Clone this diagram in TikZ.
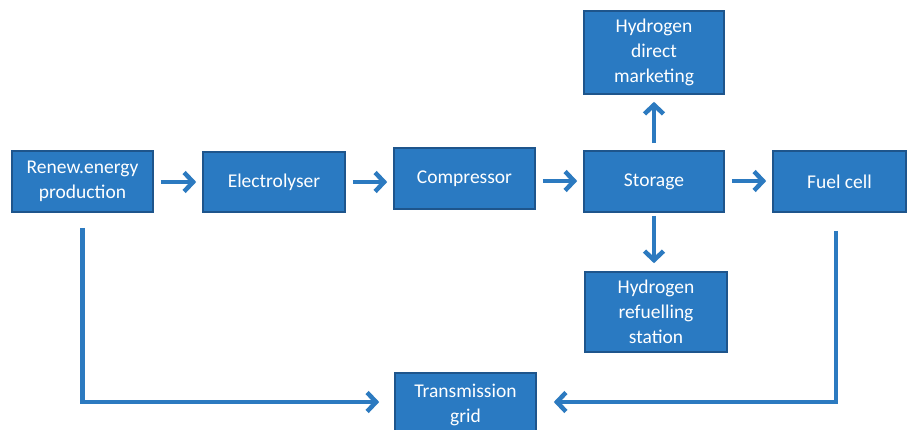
\documentclass[tikz,border=0pt]{standalone}
\usepackage{fontspec}
\setmainfont{Carlito}
\usetikzlibrary{arrows.meta}
\definecolor{boxfill}{RGB}{42,122,194}
\definecolor{boxline}{RGB}{30,85,140}
\definecolor{arrcol}{RGB}{44,122,192}
\begin{document}
\begin{tikzpicture}[x=1pt,y=-1pt,
  blk/.style={draw=boxline,line width=1.6pt,fill=boxfill,text=white,
    font=\fontsize{19.5}{25}\selectfont,align=center,inner sep=0pt},
  conn/.style={draw=arrcol,line width=4.5pt,
    -{Straight Barb[length=9pt,width=19pt]}}]
\clip (0,0) rectangle (909,429);
\fill[white] (0,0) rectangle (909,429);
\node[blk,minimum width=141pt,minimum height=61pt] (ren) at (82.5,181.5) {Renew.energy\\production};
\node[blk,minimum width=142pt,minimum height=60pt] (ele) at (274,182) {Electrolyser};
\node[blk,minimum width=141pt,minimum height=61pt] (com) at (464.5,178.5) {Compressor};
\node[blk,minimum width=140pt,minimum height=61pt] (sto) at (654,181.5) {Storage};
\node[blk,minimum width=133pt,minimum height=61pt] (fuel) at (839.5,181.5) {Fuel cell};
\node[blk,minimum width=140pt,minimum height=83pt] (hdm) at (654,52.5) {Hydrogen\\direct\\marketing};
\node[blk,minimum width=142pt,minimum height=80pt] (hrs) at (656,312) {Hydrogen\\refuelling\\station};
\node[blk,minimum width=141pt,minimum height=64pt] (tg) at (465.5,405) {Transmission\\grid};
\draw[conn,shorten <=7pt,shorten >=6pt] (ren.east |- 0,182) -- (ele.west |- 0,182);
\draw[conn,shorten <=7pt,shorten >=6pt] (ele.east |- 0,182) -- (com.west |- 0,182);
\draw[conn,shorten <=7pt,shorten >=6pt] (com.east |- 0,181) -- (sto.west |- 0,181);
\draw[conn,shorten <=7pt,shorten >=6pt] (sto.east |- 0,181) -- (fuel.west |- 0,181);
\draw[conn,shorten <=7pt,shorten >=7pt] (sto.north) -- (hdm.south);
\draw[conn,shorten <=3pt,shorten >=8pt] (sto.south) -- (hrs.north -| sto.south);
\coordinate (lc) at (ren.south |- 0,402);
\coordinate (rc) at (836,402);
\draw[conn,shorten <=15pt,shorten >=15pt] (ren.south) -- (lc) -- (tg.west |- lc);
\draw[conn,shorten <=18pt,shorten >=17pt] (fuel.south -| rc) -- (rc) -- (tg.east |- rc);
\end{tikzpicture}
\end{document}
